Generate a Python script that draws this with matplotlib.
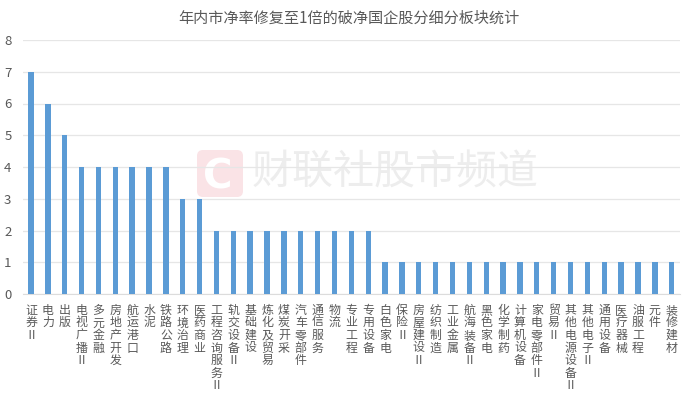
import matplotlib.pyplot as plt
from matplotlib.patches import FancyBboxPatch

plt.rcParams['font.family'] = ['Noto Sans CJK SC', 'DejaVu Sans']

# Data
categories = ['证券Ⅱ', '电力', '出版', '电视广播Ⅱ', '多元金融', '房地产开发', '航运港口', '水泥',
              '铁路公路', '环境治理', '医药商业', '工程咨询服务Ⅱ', '轨交设备Ⅱ', '基础建设',
              '炼化及贸易', '煤炭开采', '汽车零部件', '通信服务', '物流', '专业工程', '专用设备',
              '白色家电', '保险Ⅱ', '房屋建设Ⅱ', '纺织制造', '工业金属', '航海装备Ⅱ', '黑色家电',
              '化学制药', '计算机设备', '家电零部件Ⅱ', '贸易Ⅱ', '其他电源设备Ⅱ', '其他电子Ⅱ',
              '通用设备', '医疗器械', '油服工程', '元件', '装修建材']
counts = [7, 6, 5, 4, 4, 4, 4, 4, 4, 3, 3, 2, 2, 2, 2, 2, 2, 2, 2, 2, 2,
          1, 1, 1, 1, 1, 1, 1, 1, 1, 1, 1, 1, 1, 1, 1, 1, 1, 1]
y_ticks = [0, 1, 2, 3, 4, 5, 6, 7, 8]
title = '年内市净率修复至1倍的破净国企股分细分板块统计'
watermark = '财联社股市频道'

W, H = 692, 395
text_color = '#595959'

fig = plt.figure(figsize=(W / 100, H / 100), dpi=100)
ax = fig.add_axes([22.6 / W, 1 - 294 / H, 657.5 / W, 254 / H])

# watermark sits behind the axes, coordinates in inches
wm = FancyBboxPatch((1.97, (H - 197) / 100), 0.46, 0.47,
                    boxstyle='round,pad=0,rounding_size=0.06',
                    transform=fig.dpi_scale_trans, facecolor='#fae3e6', edgecolor='none',
                    zorder=-2)
fig.add_artist(wm)
fig.text(218 / W, 1 - 173 / H, 'C', color='white', fontsize=29, fontweight='bold',
         ha='center', va='center_baseline', family='DejaVu Sans', zorder=-1)
fig.text(252 / W, 1 - 173 / H, watermark, color='#ededed', fontsize=29.5,
         ha='left', va='center', zorder=-1)

ax.patch.set_alpha(0)
x = range(len(categories))
ax.bar(x, counts, width=0.32, color='#5b9bd5', zorder=3)

ax.set_xlim(-0.5, len(categories) - 0.5)
ax.set_ylim(0, 8)
ax.set_yticks(y_ticks)
ax.set_yticklabels([str(v) for v in y_ticks], color=text_color, fontsize=9.5)
ax.tick_params(axis='y', length=0, pad=8)
ax.grid(axis='y', color='#e6e6e6', linewidth=0.9, zorder=1)
ax.set_axisbelow(True)
for s in ['top', 'right', 'left']:
    ax.spines[s].set_visible(False)
ax.spines['bottom'].set_color('#dcdcdc')

# vertical stacked labels
ax.set_xticks(list(x))
ax.set_xticklabels(['\n'.join(c) for c in categories], color=text_color, fontsize=8.6,
                   linespacing=0.96, va='top', ha='center')
ax.tick_params(axis='x', length=0, pad=7)

fig.text(349 / W, 1 - 18 / H, title, color=text_color, fontsize=10.9, ha='center', va='center')

fig.savefig('out.png', dpi=100)
